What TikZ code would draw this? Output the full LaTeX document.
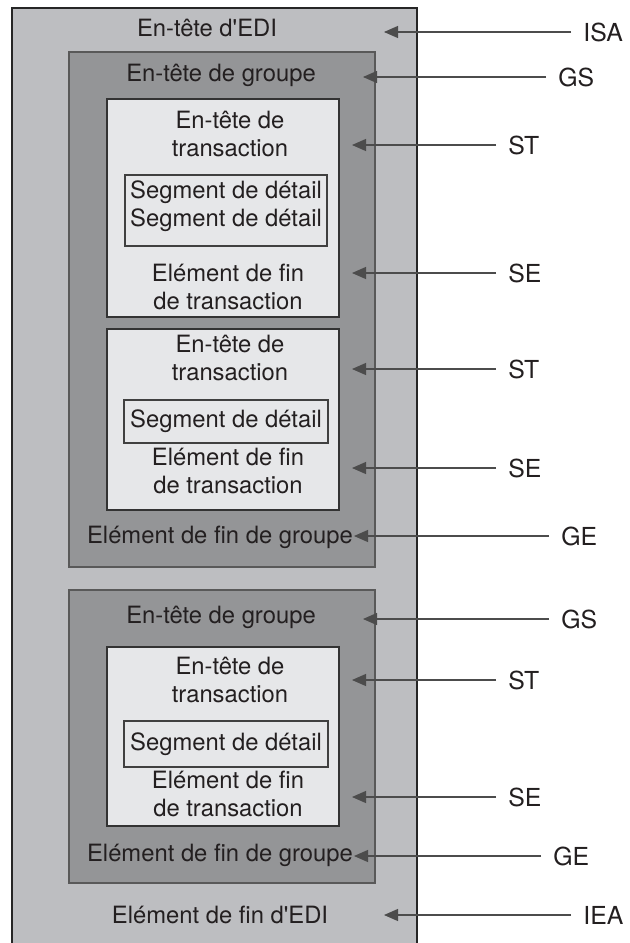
\documentclass[tikz,border=0pt]{standalone}
\usepackage{fontspec}
\setmainfont{TeX Gyre Heros}
\usetikzlibrary{arrows.meta,positioning}
\definecolor{edigray}{HTML}{BDBEC1}
\definecolor{grpgray}{HTML}{949597}
\definecolor{trngray}{HTML}{E6E7E9}
\definecolor{inkgray}{HTML}{231F20}
\tikzset{>={Triangle[length=7pt,width=6pt]}}
\tikzset{
  txt/.style={align=center,text=inkgray,inner sep=0pt,
    font=\fontsize{11.9}{14}\selectfont},
  tag/.style={anchor=west,text=inkgray,inner xsep=6pt,inner ysep=0pt,
    font=\fontsize{12.4}{14}\selectfont},
  link/.style={->,draw=black!70,line width=0.55pt},
  grpbox/.style={fill=grpgray,draw=black!65,line width=0.6pt},
  trnbox/.style={fill=trngray,draw=black!80,line width=0.6pt},
  segbox/.style={draw=black!75,line width=0.55pt}
}

\begin{document}
\begin{tikzpicture}[x=0.5pt,y=-0.5pt]
\useasboundingbox (0,0) rectangle (629,943);
% envelope
\fill[edigray] (12,8) rectangle (417,943);
\draw[line width=0.8pt,black!85] (12,943) -- (12,8) -- (417,8) -- (417,943);
% groups
\draw[grpbox] (69,52)  rectangle (375,567);
\draw[grpbox] (69,590) rectangle (375,883);
% transactions
\draw[trnbox] (107,99)  rectangle (339,317);
\draw[trnbox] (107,329) rectangle (339,510);
\draw[trnbox] (107,647) rectangle (339,826);
% detail segments
\draw[segbox] (125,175) rectangle (327,246);
\draw[segbox] (124,400) rectangle (328,443);
\draw[segbox] (124,721) rectangle (328,767);

% texts
\node[txt] (edihead) at (207,28) {En-tête d\textquotesingle EDI};
\node[txt] (grphead1) at (221,75) {En-tête de groupe};
\node[txt] (trnhead1) at (230,134) {En-tête de\\transaction};
\node[txt] (seg1) at (226,206) {Segment de détail\\Segment de détail};
\node[txt] (trnend1) at (228,287) {Elément de fin\\de transaction};
\node[txt] (trnhead2) at (230,358) {En-tête de\\transaction};
\node[txt] (seg2) at (226,421) {Segment de détail};
\node[txt] (trnend2) at (228,471) {Elément de fin\\de transaction};
\node[txt] (grpend1) at (220,537) {Elément de fin de groupe};
\node[txt] (grphead2) at (221,617) {En-tête de groupe};
\node[txt] (trnhead3) at (230,680) {En-tête de\\transaction};
\node[txt] (seg3) at (226,744) {Segment de détail};
\node[txt] (trnend3) at (228,794) {Elément de fin\\de transaction};
\node[txt] (grpend2) at (220,855) {Elément de fin de groupe};
\node[txt] (ediend) at (220,915) {Elément de fin d\textquotesingle EDI};

% segment ids and arrows
\coordinate (tipisa) at (384,32);
\coordinate (tipgs1) at (363,77);
\coordinate (tipst1) at (352,145);
\coordinate (tipse1) at (352,273);
\coordinate (tipst2) at (352,369);
\coordinate (tipse2) at (352,468);
\coordinate (tipge1) at (354,536);
\coordinate (tipgs2) at (363,619);
\coordinate (tipst3) at (352,680);
\coordinate (tipse3) at (352,797);
\coordinate (tipge2) at (354,856);
\coordinate (tipiea) at (384,915);

\node[tag] (isa) at (571,32)  {ISA};
\node[tag] (gs1) at (546,77)  {GS};
\node[tag] (st1) at (496,145) {ST};
\node[tag] (se1) at (496,273) {SE};
\node[tag] (st2) at (496,369) {ST};
\node[tag] (se2) at (496,468) {SE};
\node[tag] (ge1) at (549,536) {GE};
\node[tag] (gs2) at (549,619) {GS};
\node[tag] (st3) at (496,680) {ST};
\node[tag] (se3) at (496,797) {SE};
\node[tag] (ge2) at (541,856) {GE};
\node[tag] (iea) at (571,915) {IEA};

\draw[link] (isa.west) -- (tipisa);
\draw[link] (gs1.west) -- (tipgs1);
\draw[link] (st1.west) -- (tipst1);
\draw[link] (se1.west) -- (tipse1);
\draw[link] (st2.west) -- (tipst2);
\draw[link] (se2.west) -- (tipse2);
\draw[link] (ge1.west) -- (tipge1);
\draw[link] (gs2.west) -- (tipgs2);
\draw[link] (st3.west) -- (tipst3);
\draw[link] (se3.west) -- (tipse3);
\draw[link] (ge2.west) -- (tipge2);
\draw[link] (iea.west) -- (tipiea);
\end{tikzpicture}
\end{document}
